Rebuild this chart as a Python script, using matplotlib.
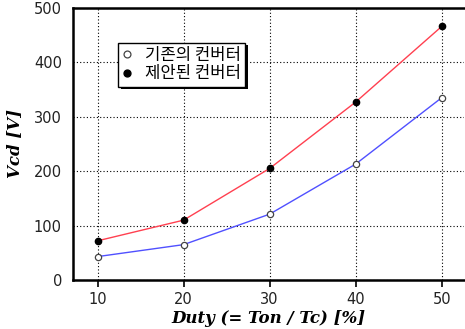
import matplotlib
matplotlib.use("Agg")
import matplotlib.pyplot as plt
import matplotlib.patheffects as pe

# duty ratio [%] vs. output voltage Vcd [V]
duty = [10, 20, 30, 40, 50]
vcd_conventional = [43, 65, 121, 213, 335]
vcd_proposed = [72, 110, 205, 327, 466]
labels = ["기존의 컨버터", "제안된 컨버터"]

plt.rcParams["font.family"] = ["DejaVu Sans"]

fig = plt.figure(figsize=(4.65, 3.29), dpi=100)
ax = fig.add_axes([73 / 465, 49 / 329, 391 / 465, 272 / 329])

ax.plot(duty, vcd_conventional, "-o", color="#5050ff", lw=1.0, ms=4.5,
        mfc="white", mec="#444444", mew=0.9, label=labels[0])
ax.plot(duty, vcd_proposed, "-o", color="#ff4050", lw=1.0, ms=4.5,
        mfc="black", mec="black", label=labels[1])

ax.set_xlim(7.15, 52.6)
ax.set_ylim(0, 500)
ax.set_xticks(duty)
ax.set_yticks(range(0, 501, 100))
ax.grid(True, ls=(0, (1, 2)), color="black", lw=0.8)
for side in ("left", "bottom", "top"):
    ax.spines[side].set_linewidth(1.8)
ax.spines["right"].set_visible(False)
ax.tick_params(axis="x", length=5, width=1.2, labelsize=10.5, pad=4)
ax.tick_params(axis="y", length=0, labelsize=10.5, pad=8)
for t in ax.get_xticklabels() + ax.get_yticklabels():
    t.set_color("#222222")

serif = dict(family="DejaVu Serif", weight="bold", style="italic", size=12)
ax.set_xlabel("Duty (= Ton / Tc) [%]", labelpad=2, **serif)
ax.set_ylabel("Vcd [V]", labelpad=8, **serif)

leg = ax.legend(loc="upper left", bbox_to_anchor=(0.115, 0.873),
                prop={"family": ["Noto Sans CJK KR", "DejaVu Sans"], "size": 12},
                frameon=True, fancybox=False, shadow=False, borderpad=0.25,
                handlelength=0.6, handletextpad=0.75, labelspacing=0.1,
                borderaxespad=0, markerscale=1.1)
for h in leg.legend_handles:
    h.set_linestyle("none")
frame = leg.get_frame()
frame.set_edgecolor("black")
frame.set_linewidth(1.0)
frame.set_alpha(1)
frame.set_path_effects([pe.SimplePatchShadow(offset=(2, -2), shadow_rgbFace="black", alpha=1),
                        pe.Normal()])

fig.savefig("out.png", dpi=100)
